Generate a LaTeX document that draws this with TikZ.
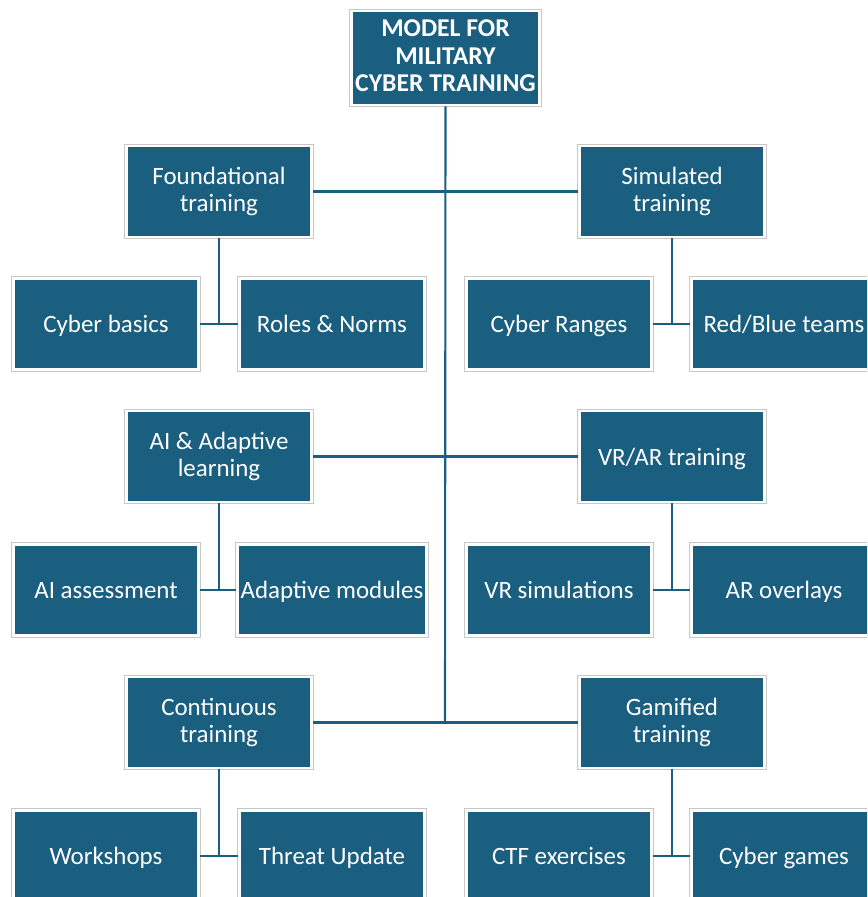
\documentclass[tikz,border=0pt]{standalone}
\usepackage{fontspec}
\setmainfont{Carlito}
\definecolor{boxblue}{RGB}{26,94,128}
\newcommand\boxstrut{\rule[-2.5pt]{0pt}{14.8pt}}
\tikzset{
  box/.style={rectangle, fill=boxblue, draw=white, line width=1.6pt,
    preaction={draw=black!22, line width=2.6pt},
    minimum width=3.7cm, minimum height=1.82cm, text=white,
    align=center, font=\fontsize{14.2}{15.8}\selectfont, inner sep=2pt,
    execute at begin node=\boxstrut, execute at end node=\boxstrut},
  topbox/.style={box, minimum width=3.72cm, minimum height=1.88cm,
    font=\bfseries\fontsize{14.6}{15.8}\selectfont},
  link/.style={draw=boxblue, line width=1.2pt}
}
\begin{document}
\begin{tikzpicture}[x=0.02cm, y=-0.02cm]
  \useasboundingbox (0,0) rectangle (867,897);
  \clip (0,0) rectangle (867,897);

  % radice
  \node[topbox] (root) at (445.5,58) {MODEL FOR\\MILITARY\\CYBER TRAINING};
  \coordinate (trunkend) at (445,722.5);

  % primo livello
  \node[box] (found) at (219,191.5) {Foundational\\training};
  \node[box] (sim) at (672,191.5) {Simulated\\training};
  \node[box] (ai) at (219,456.5) {AI \& Adaptive\\learning};
  \node[box] (vrar) at (672,456.5) {VR/AR training};
  \node[box] (cont) at (219,722.5) {Continuous\\training};
  \node[box] (gam) at (672,722.5) {Gamified\\training};

  % secondo livello
  \node[box] (basics) at (106,324) {Cyber basics};
  \node[box] (roles) at (332,324) {Roles \& Norms};
  \node[box] (ranges) at (559,324) {Cyber Ranges};
  \node[box] (teams) at (784,324) {Red/Blue teams};

  \node[box] (assess) at (106,590) {AI assessment};
  \node[box] (adapt) at (332,590) {Adaptive modules};
  \node[box] (vrsim) at (559,590) {VR simulations};
  \node[box] (arover) at (784,590) {AR overlays};

  \node[box] (work) at (106,856) {Workshops};
  \node[box] (threat) at (332,856) {Threat Update};
  \node[box] (ctf) at (559,856) {CTF exercises};
  \node[box] (games) at (784,856) {Cyber games};

  % tronco e rami
  \draw[link] (root.south) -- (trunkend);
  \draw[link] (found.east) -- (sim.west);
  \draw[link] (ai.east) -- (vrar.west);
  \draw[link] (cont.east) -- (gam.west);

  % sottorami
  \draw[link] (found.south) -- (found.south |- basics.east);
  \draw[link] (basics.east) -- (roles.west);
  \draw[link] (sim.south) -- (sim.south |- ranges.east);
  \draw[link] (ranges.east) -- (teams.west);

  \draw[link] (ai.south) -- (ai.south |- assess.east);
  \draw[link] (assess.east) -- (adapt.west);
  \draw[link] (vrar.south) -- (vrar.south |- vrsim.east);
  \draw[link] (vrsim.east) -- (arover.west);

  \draw[link] (cont.south) -- (cont.south |- work.east);
  \draw[link] (work.east) -- (threat.west);
  \draw[link] (gam.south) -- (gam.south |- ctf.east);
  \draw[link] (ctf.east) -- (games.west);
\end{tikzpicture}
\end{document}
